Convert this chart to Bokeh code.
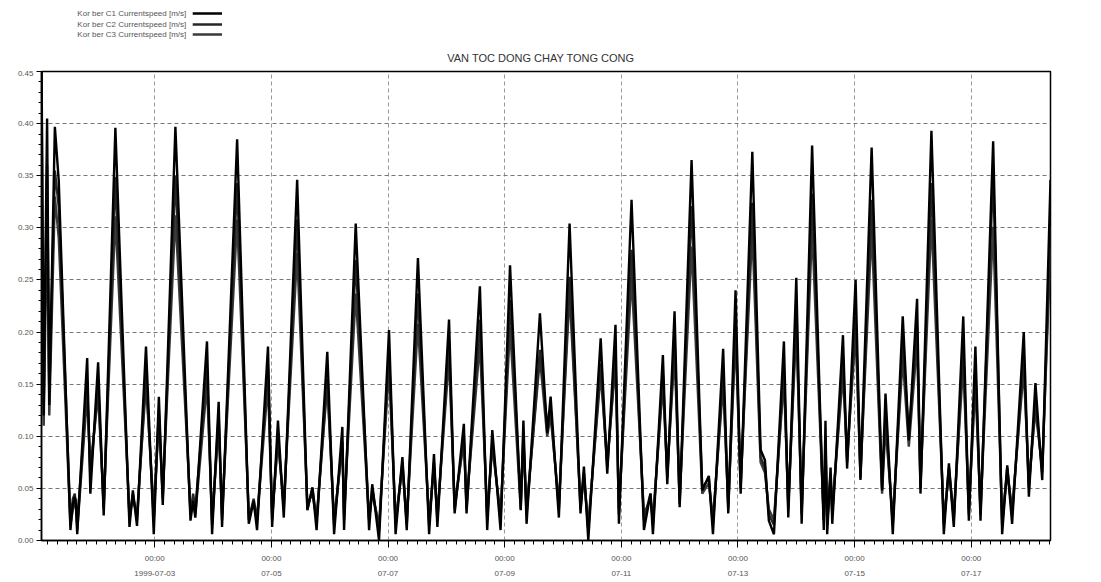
from bokeh.plotting import figure
from bokeh.layouts import column
from bokeh.models import Range1d, FixedTicker, LinearAxis, PrintfTickFormatter
from bokeh.core.properties import value
from bokeh.embed import file_html
from bokeh.resources import INLINE

# ---------------- data (hours since 1999-07-01 00:00) ----------------
hours = [
    1.4, 2.3, 3.7, 4.6, 6.9, 8.5, 13.3, 14.3, 15.1, 15.6, 16.1, 20.2, 21.5, 24.7, 27.0, 31.8,
    37.6, 39.0, 40.7, 44.4, 47.6, 49.7, 51.3, 56.5, 62.7, 63.8, 64.7, 69.5, 71.6, 74.3, 75.7,
    81.9, 86.7, 88.7, 90.1, 94.6, 96.3, 98.7, 101.1, 106.6,
    110.8, 112.9, 114.6, 119.0, 121.8, 125.2, 125.9, 130.7, 136.2, 137.5, 140.3, 144.4, 147.1,
    149.9, 151.7, 156.3, 160.9, 162.9, 164.3, 169.1, 171.4, 175.2, 176.3, 181.8, 184.8, 186.9,
    190.3, 194.2, 198.6, 199.7, 201.0, 206.5, 209.5, 210.9, 214.3,
    218.7, 223.2, 224.6, 226.4, 231.5, 234.2, 237.6, 239.0, 244.2, 249.3, 252.0, 253.0, 257.1,
    258.9, 261.9, 264.0, 268.9, 273.3, 276.0, 277.7, 281.9, 284.0, 287.0, 289.1, 293.9, 297.3,
    299.1, 300.7, 302.8, 306.9, 308.7, 312.0, 314.2,
    318.5, 323.3, 324.0, 324.7, 326.1, 326.8, 331.2, 332.9, 336.4, 338.4, 343.0, 347.3, 348.7,
    351.7, 355.8, 358.3, 361.7, 363.1, 367.6, 372.7, 374.8, 376.8, 380.7, 383.0, 385.7, 387.8,
    393.0, 396.7, 398.8, 400.8, 405.6, 407.7, 410.4, 413.2, 416.6,
]

c1_speed = [
    0.470, 0.120, 0.405, 0.130, 0.397, 0.345, 0.010, 0.035, 0.042, 0.034, 0.006, 0.175, 0.045, 0.171, 0.024, 0.396,
    0.013, 0.048, 0.014, 0.186, 0.006, 0.138, 0.034, 0.397, 0.019, 0.038, 0.022, 0.191, 0.006, 0.133, 0.013,
    0.385, 0.016, 0.038, 0.010, 0.186, 0.013, 0.115, 0.022, 0.346,
    0.029, 0.051, 0.010, 0.181, 0.006, 0.109, 0.010, 0.304, 0.010, 0.054, 0.000, 0.202, 0.006,
    0.080, 0.010, 0.271, 0.006, 0.083, 0.013, 0.212, 0.026, 0.112, 0.026, 0.244, 0.010, 0.106,
    0.010, 0.264, 0.029, 0.115, 0.016, 0.218, 0.103, 0.138, 0.022,
    0.304, 0.026, 0.071, 0.000, 0.194, 0.064, 0.207, 0.016, 0.327, 0.010, 0.045, 0.006, 0.178,
    0.054, 0.220, 0.032, 0.365, 0.048, 0.062, 0.006, 0.184, 0.026, 0.240, 0.045, 0.373, 0.087,
    0.077, 0.019, 0.006, 0.191, 0.022, 0.252, 0.016,
    0.379, 0.010, 0.115, 0.006, 0.070, 0.016, 0.197, 0.069, 0.250, 0.058, 0.377, 0.048, 0.141,
    0.006, 0.215, 0.096, 0.232, 0.045, 0.393, 0.006, 0.074, 0.013, 0.215, 0.019, 0.186, 0.019,
    0.383, 0.006, 0.072, 0.016, 0.200, 0.042, 0.151, 0.058, 0.346,
]

c2_speed = [
    0.450, 0.130, 0.360, 0.140, 0.355, 0.320, 0.020, 0.040, 0.045, 0.030, 0.015, 0.150, 0.060, 0.150, 0.030, 0.349,
    0.020, 0.045, 0.020, 0.160, 0.020, 0.125, 0.040, 0.350, 0.025, 0.045, 0.030, 0.165, 0.015, 0.120, 0.020,
    0.343, 0.020, 0.040, 0.020, 0.165, 0.020, 0.100, 0.030, 0.308,
    0.030, 0.050, 0.020, 0.155, 0.015, 0.095, 0.020, 0.269, 0.020, 0.050, 0.010, 0.180, 0.015,
    0.075, 0.015, 0.237, 0.015, 0.075, 0.020, 0.190, 0.030, 0.100, 0.030, 0.212, 0.020, 0.095,
    0.020, 0.231, 0.035, 0.100, 0.025, 0.183, 0.110, 0.125, 0.030,
    0.253, 0.030, 0.065, 0.010, 0.170, 0.070, 0.180, 0.025, 0.279, 0.020, 0.045, 0.015, 0.160,
    0.060, 0.195, 0.035, 0.321, 0.050, 0.060, 0.015, 0.160, 0.030, 0.210, 0.050, 0.324, 0.080,
    0.070, 0.025, 0.015, 0.165, 0.030, 0.220, 0.025,
    0.333, 0.020, 0.100, 0.015, 0.065, 0.025, 0.175, 0.075, 0.215, 0.060, 0.327, 0.050, 0.120,
    0.015, 0.190, 0.100, 0.205, 0.050, 0.343, 0.015, 0.070, 0.020, 0.185, 0.025, 0.165, 0.025,
    0.353, 0.015, 0.070, 0.025, 0.175, 0.050, 0.135, 0.065, 0.300,
]

c3_speed = [
    0.330, 0.110, 0.320, 0.120, 0.330, 0.290, 0.015, 0.030, 0.035, 0.040, 0.010, 0.140, 0.070, 0.140, 0.035, 0.311,
    0.025, 0.040, 0.025, 0.150, 0.030, 0.115, 0.045, 0.312, 0.030, 0.040, 0.025, 0.150, 0.020, 0.110, 0.025,
    0.308, 0.025, 0.035, 0.020, 0.150, 0.025, 0.095, 0.035, 0.276,
    0.035, 0.045, 0.020, 0.150, 0.020, 0.090, 0.025, 0.237, 0.020, 0.045, 0.015, 0.165, 0.020,
    0.070, 0.020, 0.208, 0.020, 0.070, 0.025, 0.175, 0.035, 0.095, 0.035, 0.189, 0.025, 0.090,
    0.025, 0.205, 0.030, 0.095, 0.030, 0.175, 0.100, 0.120, 0.035,
    0.237, 0.035, 0.060, 0.015, 0.160, 0.075, 0.170, 0.030, 0.253, 0.025, 0.040, 0.020, 0.150,
    0.065, 0.180, 0.040, 0.282, 0.045, 0.055, 0.020, 0.150, 0.035, 0.195, 0.055, 0.298, 0.075,
    0.065, 0.030, 0.020, 0.155, 0.035, 0.205, 0.030,
    0.301, 0.020, 0.090, 0.020, 0.060, 0.030, 0.160, 0.080, 0.200, 0.065, 0.298, 0.045, 0.110,
    0.020, 0.175, 0.090, 0.190, 0.055, 0.308, 0.020, 0.065, 0.025, 0.170, 0.030, 0.150, 0.030,
    0.301, 0.020, 0.065, 0.030, 0.165, 0.055, 0.125, 0.070, 0.280,
]

assert len(hours) == len(c1_speed) == len(c2_speed) == len(c3_speed)

series_names = [
    "Kor ber C1 Currentspeed [m/s]",
    "Kor ber C2 Currentspeed [m/s]",
    "Kor ber C3 Currentspeed [m/s]",
]
chart_title = "VAN TOC DONG CHAY TONG CONG"

y_ticks = [0.0, 0.05, 0.1, 0.15, 0.2, 0.25, 0.3, 0.35, 0.4, 0.45]
x_ticks = [48, 96, 144, 192, 240, 288, 336, 384]
x_time_labels = ["00:00", "00:00", "00:00", "00:00", "00:00", "00:00", "00:00", "00:00"]
x_date_labels = ["1999-07-03", "07-05", "07-07", "07-09", "07-11", "07-13", "07-15", "07-17"]

# ---------------- styles ----------------
FONT = "Liberation Sans"
series_colors = ["#000000", "#262626", "#3a3a3a"]
LABEL_COLOR = "#555555"

# ---------------- header (legend + title) ----------------
hdr = figure(width=1101, height=70, x_range=Range1d(0, 1101), y_range=Range1d(70, 0),
             output_backend="svg", toolbar_location=None,
             x_axis_type=None, y_axis_type=None, min_border=0)
hdr.outline_line_color = None
hdr.background_fill_color = "white"
hdr.border_fill_color = "white"

leg_rows = [13, 24, 34]
hdr.text(x=[158, 158, 158], y=leg_rows, text=series_names, text_align="right",
         text_baseline="middle", text_font=value(FONT), text_font_size="8px",
         text_color=LABEL_COLOR)
hdr.segment(x0=[165, 165, 165], y0=leg_rows, x1=[197, 197, 197], y1=leg_rows,
            line_color=series_colors, line_width=2.5)
hdr.text(x=[545], y=[57], text=[chart_title], text_align="center", text_baseline="middle",
         text_font=value(FONT), text_font_size="11px", text_color="#333333")

# ---------------- main plot ----------------
p = figure(width=1101, height=512, x_range=Range1d(1.4, 416.6), y_range=Range1d(0, 0.45),
           output_backend="svg", toolbar_location=None,
           min_border_left=41, min_border_right=51, min_border_top=1, min_border_bottom=42)
p.background_fill_color = "white"
p.border_fill_color = "white"
p.outline_line_color = "black"
p.outline_line_width = 1.5

xt = FixedTicker(ticks=x_ticks, minor_ticks=list(range(4, 417, 4)))
yt = FixedTicker(ticks=y_ticks, minor_ticks=[i / 100 for i in range(46)])

p.xaxis.ticker = xt
p.xaxis.major_label_overrides = {t: s for t, s in zip(x_ticks, x_time_labels)}
p.yaxis.ticker = yt
p.yaxis.formatter = PrintfTickFormatter(format="%.2f")

for ax in p.axis:
    ax.axis_line_color = "black"
    ax.axis_line_width = 1.5
    ax.major_tick_line_color = "black"
    ax.minor_tick_line_color = "black"
    ax.major_tick_in = 0
    ax.minor_tick_in = 0
    ax.major_label_text_font = FONT
    ax.major_label_text_font_size = "8px"
    ax.major_label_text_color = LABEL_COLOR

p.yaxis.major_tick_out = 5
p.yaxis.minor_tick_out = 3
p.yaxis.major_label_standoff = 3
p.xaxis.major_tick_out = 7
p.xaxis.minor_tick_out = 4
p.xaxis.major_label_standoff = 6

ax2 = LinearAxis(ticker=FixedTicker(ticks=x_ticks),
                 major_label_overrides={t: s for t, s in zip(x_ticks, x_date_labels)})
ax2.axis_line_color = None
ax2.major_tick_line_color = None
ax2.minor_tick_line_color = None
ax2.major_tick_out = 0
ax2.major_tick_in = 0
ax2.major_label_standoff = 5
ax2.major_label_text_font = FONT
ax2.major_label_text_font_size = "8px"
ax2.major_label_text_color = LABEL_COLOR
p.add_layout(ax2, "below")

p.ygrid.grid_line_color = "#777777"
p.ygrid.grid_line_dash = "4 3"
p.ygrid.grid_line_width = 1
p.xgrid.grid_line_color = "#999999"
p.xgrid.grid_line_dash = "4 3"
p.xgrid.grid_line_width = 1

p.line(hours, c3_speed, line_color=series_colors[2], line_width=2.4)
p.line(hours, c2_speed, line_color=series_colors[1], line_width=2.4)
p.line(hours, c1_speed, line_color=series_colors[0], line_width=2.4)

layout = column(hdr, p, spacing=0)
open("out.html", "w").write(file_html(layout, INLINE))
